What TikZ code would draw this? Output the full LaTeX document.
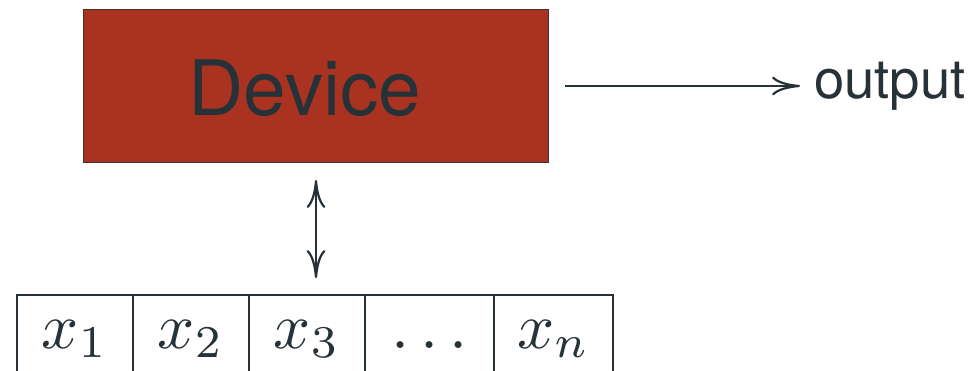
\documentclass[tikz,border=0pt]{standalone}
\usepackage{graphicx}
\usepackage{fontspec}
\setmainfont{TeX Gyre Heros}
\usetikzlibrary{arrows.meta}
\definecolor{ink}{HTML}{263238}
\definecolor{devred}{HTML}{A93220}
\newcommand{\bigmath}[1]{\scalebox{6.5}{$#1$}}
\tikzset{
  devbox/.style={draw=ink!80!devred, line width=1pt, fill=devred},
  conn/.style={draw=ink, line width=2.2pt,
    arrows={-Computer Modern Rightarrow[length=28pt,width=19pt]}},
  cell/.style={draw=ink, line width=2pt},
  celltext/.style={anchor=base, text=ink, inner sep=0pt}
}
\begin{document}
\begin{tikzpicture}[x=1pt,y=-1pt]
  \useasboundingbox (0,0) rectangle (970,370);
  \clip (0,0) rectangle (970,370);

  % device block
  \node[devbox, minimum width=465pt, minimum height=153pt, inner sep=0pt,
        anchor=north west] (dev) at (83,9) {};
  \node[text=ink, inner sep=0pt, font=\fontsize{76.5}{80}\selectfont,
        anchor=base] (devlabel) at (305,115) {Device};

  % output
  \coordinate (outstart) at (565,86);
  \node[text=ink, inner sep=0pt, anchor=west,
        font=\fontsize{54.5}{60}\selectfont] (out) at (814,86) {output};
  \draw[conn] (outstart) -- (out.west -| 800,0);

  % memory tape
  \coordinate (tapetop) at (316,180);
  \coordinate (tapebot) at (316,278);
  \draw[conn, arrows={Computer Modern Rightarrow[length=28pt,width=19pt]-Computer Modern Rightarrow[length=28pt,width=19pt]}]
    (tapetop) -- (tapebot);

  \draw[cell] (17,295) rectangle (613,420);
  \foreach \x in {133,249,365,494} \draw[cell] (\x,295) -- (\x,420);

  \node[celltext] (c1) at (75,348) {\bigmath{x_1}};
  \node[celltext] (c2) at (191,348) {\bigmath{x_2}};
  \node[celltext] (c3) at (307,348) {\bigmath{x_3}};
  \node[celltext] (c4) at (429.5,348) {\bigmath{\dots}};
  \node[celltext] (c5) at (553.5,348) {\bigmath{x_n}};
\end{tikzpicture}
\end{document}
